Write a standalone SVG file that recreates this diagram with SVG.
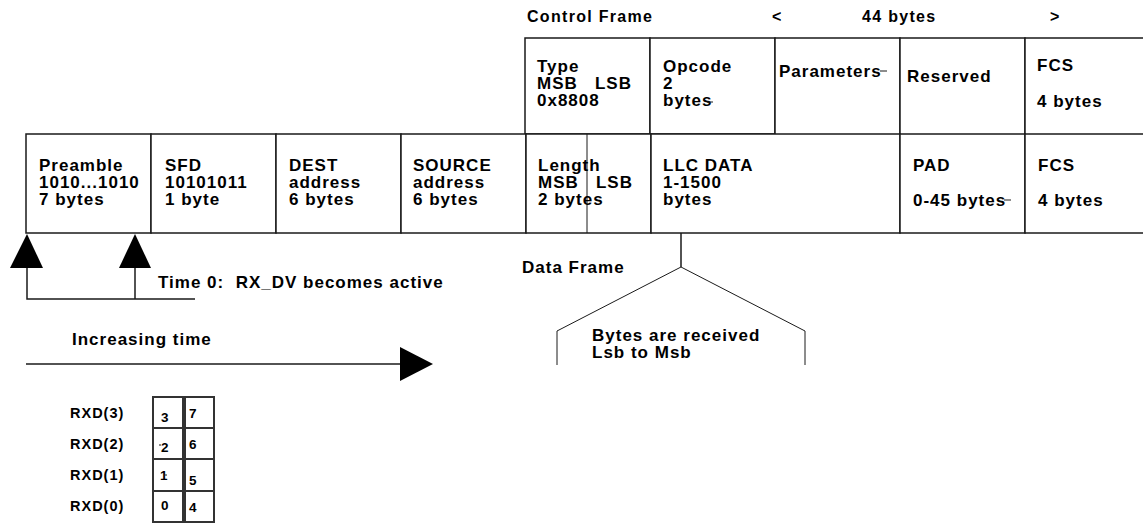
<svg xmlns="http://www.w3.org/2000/svg" width="1143" height="523" viewBox="0 0 1143 523">
  <style>
    .cell { fill: #ffffff; stroke: #1a1a1a; stroke-width: 1.5; }
    .grid { fill: #ffffff; stroke: #333333; stroke-width: 2; }
    .ln { fill: none; stroke: #1a1a1a; stroke-width: 1.5; }
    .thin { fill: none; stroke: #1a1a1a; stroke-width: 1; }
    .head { fill: #000000; }
    text { font-family: "Liberation Sans", Arial, sans-serif; font-weight: bold; fill: #000000; }
    .t { font-size: 17px; letter-spacing: 1px; }
    .h { font-size: 16px; letter-spacing: 1.3px; }
    .s { font-size: 14.5px; letter-spacing: 1px; }
    .d { font-size: 13.5px; }
  </style>

  <!-- header above the control frame -->
  <g id="control-frame-header">
    <text class="h" x="527" y="22" xml:space="preserve">Control Frame</text>
    <text class="h" x="772" y="22">&lt;</text>
    <text class="h" x="862" y="22">44 bytes</text>
    <text class="h" x="1050" y="22">&gt;</text>
  </g>

  <!-- control frame row -->
  <g id="cf-type">
    <rect class="cell" x="525" y="38" width="125" height="96"/>
    <text class="t" x="537" y="72">Type</text>
    <text class="t" x="537" y="89" xml:space="preserve">MSB   LSB</text>
    <text class="t" x="537" y="106">0x8808</text>
  </g>
  <g id="cf-opcode">
    <rect class="cell" x="650" y="38" width="125" height="96"/>
    <text class="t" x="663" y="72">Opcode</text>
    <text class="t" x="663" y="89">2</text>
    <text class="t" x="663" y="106">bytes</text>
    <line class="thin" x1="707" y1="102" x2="713" y2="102"/>
  </g>
  <g id="cf-parameters">
    <rect class="cell" x="775" y="38" width="125" height="97"/>
    <text class="t" x="779" y="77">Parameters</text>
    <line class="thin" x1="880" y1="71" x2="887" y2="71"/>
  </g>
  <g id="cf-reserved">
    <rect class="cell" x="900" y="38" width="125" height="97"/>
    <text class="t" x="907" y="82">Reserved</text>
  </g>
  <g id="cf-fcs">
    <rect class="cell" x="1025" y="38" width="130" height="97"/>
    <text class="t" x="1037" y="71">FCS</text>
    <text class="t" x="1037" y="107">4 bytes</text>
  </g>

  <!-- data frame row -->
  <g id="df-preamble">
    <rect class="cell" x="26" y="134" width="125" height="99"/>
    <text class="t" x="39" y="171">Preamble</text>
    <text class="t" x="39" y="188" letter-spacing="1.4">1010...1010</text>
    <text class="t" x="39" y="205">7 bytes</text>
  </g>
  <g id="df-sfd">
    <rect class="cell" x="151" y="134" width="125" height="99"/>
    <text class="t" x="165" y="171">SFD</text>
    <text class="t" x="165" y="188">10101011</text>
    <text class="t" x="165" y="205">1 byte</text>
  </g>
  <g id="df-dest">
    <rect class="cell" x="276" y="134" width="125" height="99"/>
    <text class="t" x="289" y="171">DEST</text>
    <text class="t" x="289" y="188">address</text>
    <text class="t" x="289" y="205">6 bytes</text>
  </g>
  <g id="df-source">
    <rect class="cell" x="401" y="134" width="125" height="99"/>
    <text class="t" x="413" y="171">SOURCE</text>
    <text class="t" x="413" y="188">address</text>
    <text class="t" x="413" y="205">6 bytes</text>
  </g>
  <g id="df-length">
    <rect class="cell" x="526" y="134" width="125" height="99"/>
    <line class="thin" x1="587" y1="134" x2="587" y2="233"/>
    <text class="t" x="538" y="171">Length</text>
    <text class="t" x="538" y="188" xml:space="preserve">MSB   LSB</text>
    <text class="t" x="538" y="205">2 bytes</text>
  </g>
  <g id="df-llc-data">
    <rect class="cell" x="651" y="134" width="249" height="99"/>
    <text class="t" x="663" y="171">LLC DATA</text>
    <text class="t" x="663" y="188">1-1500</text>
    <text class="t" x="663" y="205">bytes</text>
  </g>
  <g id="df-pad">
    <rect class="cell" x="900" y="134" width="125" height="99"/>
    <text class="t" x="913" y="171">PAD</text>
    <text class="t" x="913" y="206">0-45 bytes</text>
    <line class="thin" x1="1004" y1="200" x2="1011" y2="200"/>
  </g>
  <g id="df-fcs">
    <rect class="cell" x="1025" y="134" width="130" height="99"/>
    <text class="t" x="1038" y="171">FCS</text>
    <text class="t" x="1038" y="206">4 bytes</text>
  </g>

  <!-- labels -->
  <g id="labels">
    <text class="t" x="522" y="273">Data Frame</text>
    <text class="t" x="158" y="288" letter-spacing="1.3" xml:space="preserve">Time 0:  RX_DV becomes active</text>
    <text class="t" x="72" y="345">Increasing time</text>
    <text class="t" x="592" y="341">Bytes are received</text>
    <text class="t" x="592" y="358">Lsb to Msb</text>
  </g>

  <!-- connectors and arrows -->
  <g id="connectors">
    <polygon class="head" points="27,234 10,268 43,268"/>
    <polygon class="head" points="135,234 119,268 151,268"/>
    <polyline class="ln" points="27,268 27,299 195,299"/>
    <line class="ln" x1="135" y1="268" x2="135" y2="299"/>

    <line class="ln" x1="26" y1="364" x2="401" y2="364"/>
    <polygon class="head" points="400,347 433,364 400,381"/>

    <line class="ln" x1="681" y1="233" x2="681" y2="267"/>
    <polyline class="thin" points="557,365 557,331 681,267 805,331 805,365"/>
  </g>

  <!-- receive nibble map -->
  <g id="rxd-labels">
    <text class="s" x="70" y="418">RXD(3)</text>
    <text class="s" x="70" y="449">RXD(2)</text>
    <text class="s" x="70" y="480">RXD(1)</text>
    <text class="s" x="70" y="511">RXD(0)</text>
  </g>
  <g id="rxd-grid">
    <rect class="grid" x="153" y="397" width="30" height="31"/>
    <rect class="grid" x="153" y="428" width="30" height="31"/>
    <rect class="grid" x="153" y="459" width="30" height="32"/>
    <rect class="grid" x="153" y="491" width="30" height="31"/>
    <rect class="grid" x="185" y="397" width="29" height="31"/>
    <rect class="grid" x="185" y="428" width="29" height="31"/>
    <rect class="grid" x="185" y="459" width="29" height="32"/>
    <rect class="grid" x="185" y="491" width="29" height="31"/>
    <text class="d" x="161" y="422">3</text>
    <text class="d" x="189" y="418">7</text>
    <text class="d" x="161" y="452">2</text>
    <line class="thin" x1="159" y1="445" x2="161" y2="445"/>
    <text class="d" x="189" y="449">6</text>
    <text class="d" x="160" y="480">1</text>
    <line class="thin" x1="164" y1="475" x2="167" y2="475"/>
    <text class="d" x="189" y="485">5</text>
    <text class="d" x="161" y="510">0</text>
    <text class="d" x="189" y="512">4</text>
  </g>
</svg>
